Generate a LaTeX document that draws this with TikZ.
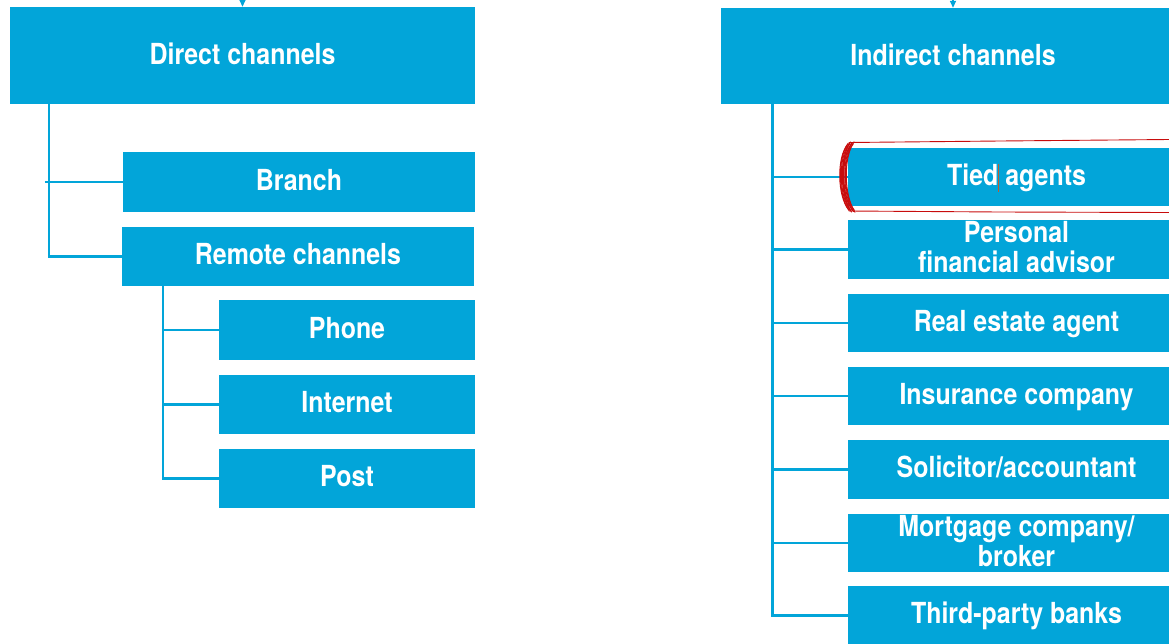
\documentclass[tikz,border=0pt]{standalone}
\usepackage{fontspec}
\setmainfont{TeX Gyre Heros}[FakeStretch=0.86]
\usetikzlibrary{calc,arrows.meta}
\definecolor{chblue}{RGB}{2,165,217}
\definecolor{markred}{RGB}{200,12,12}
\definecolor{cursor}{RGB}{190,95,45}
\begin{document}
\begin{tikzpicture}[x=1pt,y=-1pt,
  chbox/.style={fill=chblue, text=white, inner sep=0pt, align=center,
    font=\bfseries\fontsize{29}{30}\selectfont},
  headbox/.style={chbox},
  subbox/.style={chbox, minimum height=59pt, text depth=5pt},
  conn/.style={draw=chblue, line width=2.6pt},
  feed/.style={draw=chblue, line width=1.6pt, -{Triangle[width=6pt,length=7pt]}},
  redpen/.style={draw=markred, line width=0.9pt, line cap=round}
]
\useasboundingbox (0,0) rectangle (1169,643);
\clip (0,0) rectangle (1169,643);

% --- direct channels -------------------------------------------------
\node[headbox, minimum width=465pt, minimum height=97pt] (direct) at (242.5,55.5) {\raisebox{3pt}{Direct channels}};
\node[subbox, minimum width=352pt, minimum height=60pt] (branch) at (299,182) {Branch};
\node[subbox, minimum width=352pt] (remote) at (298,256.5) {Remote channels};
\node[subbox, minimum width=256pt, minimum height=60pt] (phone) at (347,330) {Phone};
\node[subbox, minimum width=256pt] (internet) at (347,404.5) {Internet};
\node[subbox, minimum width=256pt] (post) at (347,478.5) {Post};

\coordinate (dfeed) at (242.5,-12);
\draw[feed] (dfeed) -- (direct.north);

\coordinate (dtrunk) at ($(direct.south west)+(39,0)$);
\draw[conn] (dtrunk) |- (remote.west);
\draw[conn] (dtrunk |- branch.west) ++(-4,0) -- (branch.west);

\coordinate (rtrunk) at ($(remote.south west)+(41,0)$);
\draw[conn] (rtrunk) |- (post.west);
\draw[conn] (rtrunk |- phone.west) -- (phone.west);
\draw[conn] (rtrunk |- internet.west) -- (internet.west);

% --- indirect channels -----------------------------------------------
\node[headbox, minimum width=464pt, minimum height=96pt] (indirect) at (953,56) {\raisebox{3pt}{Indirect channels}};
\node[subbox, minimum width=337pt, minimum height=58pt] (tied) at (1016.5,177) {Tied agents};
\node[subbox, minimum width=337pt] (advisor) at (1016.5,249.5) {Personal\\financial advisor};
\node[subbox, minimum width=337pt, minimum height=58pt] (estate) at (1016.5,323) {Real estate agent};
\node[subbox, minimum width=337pt, minimum height=58pt] (insurance) at (1016.5,396) {Insurance company};
\node[subbox, minimum width=337pt] (solicitor) at (1016.5,469.5) {Solicitor/accountant};
\node[subbox, minimum width=337pt, minimum height=58pt] (mortgage) at (1016.5,543) {Mortgage company/\\broker};
\node[subbox, minimum width=337pt] (thirdparty) at (1016.5,615.5) {Third-party banks};

\coordinate (ifeed) at (953,-12);
\draw[feed] (ifeed) -- (indirect.north);

\coordinate (itrunk) at ($(indirect.south west)+(51.5,0)$);
\draw[conn] (itrunk) |- (thirdparty.west);
\foreach \n in {tied,advisor,estate,insurance,solicitor,mortgage}
  \draw[conn] (itrunk |- \n.west) -- (\n.west);

% --- hand-drawn highlight round the tied agents box ------------------
\draw[redpen] (849,142.5) -- (1000,141) -- (1169,139.5);
\draw[redpen] (849,211) -- (1000,212) -- (1169,212.5);
\foreach \dx/\dy in {0/0, 1.5/0.5, -1/1, 2.5/-0.5, 0.5/-1, -1.8/0.3, 3.2/0.8, 1/1.5, 4/-1.2, -2.5/1.4}
  \draw[redpen, line width=1pt]
    ($(850,143)+(\dx,\dy)$) .. controls ($(839,158)+(\dx,0)$) and ($(840,196)+(\dx,0)$) .. ($(851,211)+(\dx,-\dy)$);
\coordinate (caret) at (998,164);
\draw[draw=cursor, line width=1pt] (caret) -- ++(0,28);
\end{tikzpicture}
\end{document}
